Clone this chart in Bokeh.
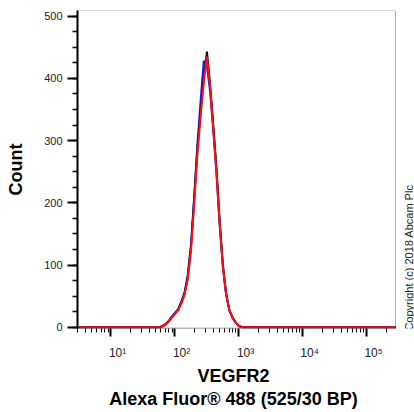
import math
from bokeh.plotting import figure
from bokeh.models import (Range1d, SingleIntervalTicker, FixedTicker, LogScale,
                          CustomJSTickFormatter, LogAxis, BoxAnnotation, Label)
from bokeh.embed import file_html
from bokeh.resources import INLINE

# ---- data ----
log_bins = [1.70, 1.75, 1.80, 1.85, 1.90, 1.95, 2.00, 2.05, 2.10, 2.15,
            2.20, 2.25, 2.30, 2.35, 2.40, 2.45, 2.50, 2.55, 2.60, 2.65,
            2.70, 2.75, 2.80, 2.85, 2.90, 2.95, 3.00, 3.05, 3.10]
black_counts = [0, 0, 1, 4, 9, 16, 22, 28, 40, 54,
                80, 128, 205, 285, 345, 400, 443, 390, 325, 255,
                170, 100, 55, 28, 16, 8, 2, 0, 0]
blue_counts = [0, 0, 2, 5, 10, 17, 23, 29, 41, 56,
               84, 132, 208, 292, 362, 428, 420, 378, 316, 246,
               163, 96, 52, 27, 15, 7, 2, 0, 0]
red_counts = [0, 0, 1, 4, 9, 15, 21, 27, 38, 52,
              77, 122, 196, 276, 338, 393, 435, 385, 318, 248,
              165, 97, 53, 28, 15, 8, 2, 0, 0]

x_min, x_max = 3.0, 2.8e5
y_min, y_max = -2, 509
x_major = [10, 100, 1000, 10000, 100000]
x_tick_labels = ["10\u2070", "10\u00b9", "10\u00b2", "10\u00b3", "10\u2074", "10\u2075"]
y_title = "Count"
x_title_lines = ["VEGFR2", "Alexa Fluor\u00ae 488 (525/30 BP)"]
copyright_text = "Copyright (c) 2018 Abcam Plc"
copyright_y = 112

FONT = "Liberation Sans"

# ---- layout (canvas pixels) ----
W, H = 414, 412
LEFT, TOP, BOTTOM = 77, 10, 84   # borders around the boxed data area
DATA_W = 318                     # width of the boxed data area
VIEW_W = W - LEFT                # frame runs to the right edge (room for the note)
lo, hi = math.log10(x_min), math.log10(x_max)
px_per_dec = DATA_W / (hi - lo)
x_view_max = 10 ** (lo + VIEW_W / px_per_dec)
note_x = 10 ** (lo + (408 - LEFT) / px_per_dec)

p = figure(width=W, height=H, x_axis_type=None,
           x_range=Range1d(x_min, x_view_max), y_range=Range1d(y_min, y_max),
           x_axis_location=None, y_axis_location="left",
           output_backend="svg", toolbar_location=None,
           min_border_left=LEFT, min_border_right=0,
           min_border_top=TOP, min_border_bottom=BOTTOM)
p.x_scale = LogScale()

p.xgrid.visible = False
p.ygrid.visible = False
p.outline_line_color = None
p.background_fill_color = "white"
p.border_fill_color = "white"

def series(counts):
    xs = [x_min] + [10 ** b for b in log_bins] + [x_max]
    ys = [0] + counts + [0]
    return xs, ys

for counts, color in [(blue_counts, "#1a1aff"), (black_counts, "#111111"), (red_counts, "#ff1010")]:
    xs, ys = series(counts)
    p.line(xs, ys, line_color=color, line_width=2)

# frame box around the data area and thicker bottom axis line
p.add_layout(BoxAnnotation(left=x_min, right=x_max, bottom=y_min, top=y_max,
                           fill_color=None, line_color="black", line_width=1))
p.add_layout(BoxAnnotation(left=x_min, right=x_max, bottom=y_min, top=y_min,
                           fill_color=None, line_color="black", line_width=2))

# y axis
ya = p.yaxis[0]
ya.ticker = SingleIntervalTicker(interval=100, num_minor_ticks=4)
ya.axis_line_width = 2
ya.major_tick_line_width = 2
ya.major_tick_out = 10
ya.major_tick_in = 0
ya.minor_tick_out = 5
ya.minor_tick_in = 0
ya.minor_tick_line_width = 1.5
ya.major_label_text_font = FONT
ya.major_label_text_font_size = "11px"
ya.major_label_text_color = "#222222"
ya.major_label_standoff = 5
ya.axis_label = y_title
ya.axis_label_text_font = FONT
ya.axis_label_text_font_size = "18px"
ya.axis_label_text_font_style = "bold"
ya.axis_label_text_color = "black"
ya.axis_label_standoff = 15

# x axis (log)
x_minor = [m * 10 ** k for k in range(0, 6) for m in range(2, 10)
           if x_min <= m * 10 ** k <= x_max]
xa = LogAxis(ticker=FixedTicker(ticks=x_major, minor_ticks=x_minor))
xa.formatter = CustomJSTickFormatter(args=dict(labels=x_tick_labels), code="""
const e = Math.round(Math.log10(tick));
const s = labels[e];
return s === undefined ? "" : "\\u00a0\\u00a0\\u00a0\\u00a0" + s;
""")
xa.axis_line_color = None
xa.major_tick_line_width = 2
xa.major_tick_out = 8
xa.major_tick_in = 0
xa.minor_tick_out = 4
xa.minor_tick_in = 0
xa.minor_tick_line_width = 1
xa.major_label_text_font = FONT
xa.major_label_text_font_size = "12px"
xa.major_label_text_color = "#222222"
xa.major_label_standoff = 9
# trailing no-break spaces centre the title under the boxed area
pad = "\u00a0" * 5
xa.axis_label = "\n".join(line + pad for line in x_title_lines)
xa.axis_label_text_font = FONT
xa.axis_label_text_font_size = "18px"
xa.axis_label_text_font_style = "bold"
xa.axis_label_text_color = "black"
xa.axis_label_text_line_height = 1.15
xa.axis_label_standoff = 3
p.add_layout(xa, "below")

p.add_layout(Label(x=note_x, y=copyright_y, text=copyright_text, angle=math.pi / 2,
                   text_align="center", text_baseline="middle",
                   text_font=FONT, text_font_size="11px", text_color="#222222"))

open("out.html", "w").write(file_html(p, INLINE, title="VEGFR2"))
